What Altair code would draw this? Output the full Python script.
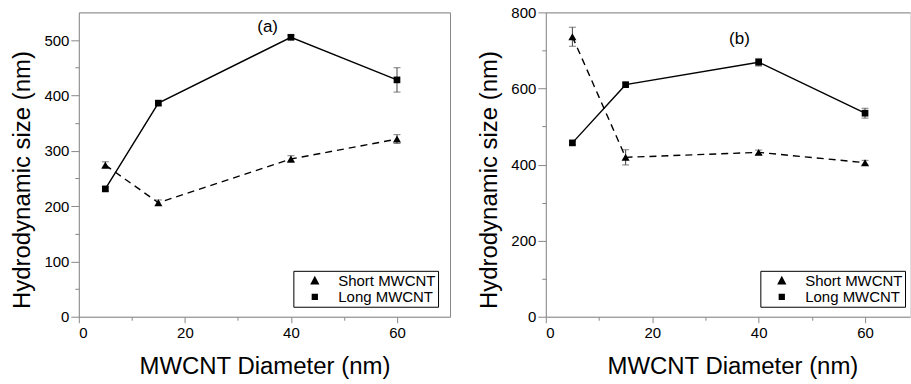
import altair as alt
import pandas as pd

FONT = "Liberation Sans"

# ---- data ----
diameters = [5, 15, 40, 60]
series_names = ["Short MWCNT", "Long MWCNT"]

a_short = [274, 206, 285, 321]
a_short_err = [6, 5, 6, 8]
a_long = [231, 386, 505, 428]
a_long_err = [4, 4, 4, 22]

b_short = [736, 419, 432, 405]
b_short_err = [25, 20, 6, 6]
b_long = [457, 610, 669, 535]
b_long_err = [5, 5, 10, 13]

x_major = [0, 20, 40, 60]
x_minor = [10, 30, 50]
a_y_major = [0, 100, 200, 300, 400, 500]
a_y_minor = [50, 150, 250, 350, 450]
b_y_major = [0, 200, 400, 600, 800]
b_y_minor = [100, 300, 500, 700]

panel_labels = ["(a)", "(b)"]
panel_label_x = [35.6, 36.4]
panel_label_y = [523, 730]

SHORT_PATH = "M-1,0L-0.62,0M0.36,0L0.74,0M0,-0.27L0.25,0.2L-0.25,0.2Z"
LONG_PATH = "M-1,0L1,0M-0.17,-0.17L0.17,-0.17L0.17,0.17L-0.17,0.17Z"


def make_df(short, short_err, long, long_err):
    rows = []
    for name, vals, errs in [(series_names[0], short, short_err), (series_names[1], long, long_err)]:
        for d, v, e in zip(diameters, vals, errs):
            rows.append({"d": d, "val": v, "lo": v - e, "hi": v + e, "series": name})
    return pd.DataFrame(rows)


def panel(df, ymax, ymaj, ymin, xmax, width, idx, right_frame, title_x):
    xs = alt.Scale(domain=[0, xmax], nice=False, zero=False)
    ys = alt.Scale(domain=[0, ymax], nice=False, zero=False)
    base = alt.Chart(df)
    short_base = base.transform_filter(alt.datum.series == series_names[0])
    long_base = base.transform_filter(alt.datum.series == series_names[1])

    short_line = short_base.mark_line(color="black", strokeWidth=1.4, strokeDash=[7, 5]).encode(
        x=alt.X("d:Q", scale=xs, axis=alt.Axis(
            orient="bottom", values=x_major, format="d", tickSize=6, labelPadding=3, grid=False,
            labelFontSize=15, title="MWCNT Diameter (nm)", titleFontSize=24,
            titleFontWeight="normal", titleY=38, titleX=title_x, titleBaseline="top")),
        y=alt.Y("val:Q", scale=ys, axis=alt.Axis(
            orient="left", values=ymaj, format="d", tickSize=8, labelPadding=2, grid=False,
            labelFontSize=15, title="Hydrodynamic size (nm)", titleFontSize=24,
            titleFontWeight="normal", titleX=-44, titleY=167.5, titleAngle=270,
            titleBaseline="bottom", titleAlign="center")),
    )
    long_line = long_base.mark_line(color="black", strokeWidth=1.4).encode(
        x=alt.X("d:Q", scale=xs, axis=None),
        y=alt.Y("val:Q", scale=ys, axis=None),
    )

    short_pts = short_base.mark_point(
        filled=True, color="black", size=65, opacity=1, shape="triangle-up").encode(
        x=alt.X("d:Q", scale=xs, axis=alt.Axis(
            orient="bottom", values=x_minor, labels=False, domain=False, tickSize=3.5, title=None, grid=False)),
        y=alt.Y("val:Q", scale=ys, axis=alt.Axis(
            orient="left", values=ymin, labels=False, domain=False, tickSize=4, title=None, grid=False)),
    )
    long_pts = long_base.mark_point(
        filled=True, color="black", size=45, opacity=1, shape="square").encode(
        x=alt.X("d:Q", scale=xs, axis=None),
        y=alt.Y("val:Q", scale=ys, axis=None),
    )

    # layer that draws no points (all rows filtered out); it only carries the legend
    legend_layer = base.transform_filter("false").mark_point(filled=True, color="black", size=1369).encode(
        x=alt.X("d:Q", scale=xs, axis=None),
        y=alt.Y("val:Q", scale=ys, axis=None),
        shape=alt.Shape("series:N", scale=alt.Scale(domain=series_names, range=[SHORT_PATH, LONG_PATH]),
                        legend=alt.Legend(title=None, orient="none", legendX=215, legendY=259, padding=2,
                                          strokeColor="black", fillColor="white", symbolSize=1369,
                                          symbolStrokeWidth=1.3, symbolFillColor="black",
                                          symbolStrokeColor="black", symbolOpacity=1,
                                          labelFontSize=15, labelFont=FONT,
                                          labelColor="black", labelOffset=4, rowPadding=0, clipHeight=16,
                                          symbolOffset=0)),
    )

    if right_frame:
        y_frame = alt.Axis(orient="right", labels=False, ticks=False, domain=True, title=None, grid=False)
    else:
        y_frame = None
    rules = base.mark_rule(color="#444", strokeWidth=1).encode(
        x=alt.X("d:Q", scale=xs, axis=alt.Axis(orient="top", labels=False, ticks=False, domain=True,
                                                 title=None, grid=False)),
        y=alt.Y("lo:Q", scale=ys, axis=y_frame),
        y2="hi:Q",
    )

    caps = base.transform_fold(["lo", "hi"], as_=["k", "v"]).mark_tick(
        orient="horizontal", color="#444", thickness=1, size=7).encode(
        x=alt.X("d:Q", scale=xs, axis=None),
        y=alt.Y("v:Q", scale=ys, axis=None),
    )

    lab_df = pd.DataFrame({"x": [panel_label_x[idx]], "y": [panel_label_y[idx]], "t": [panel_labels[idx]]})
    label = alt.Chart(lab_df).mark_text(fontSize=17, font=FONT, color="black", align="center",
                                         baseline="middle").encode(
        x=alt.X("x:Q", scale=xs, axis=None),
        y=alt.Y("y:Q", scale=ys, axis=None),
        text="t:N",
    )

    return alt.layer(rules, caps, short_line, long_line, short_pts, long_pts, legend_layer, label).resolve_axis(
        x="independent", y="independent").properties(width=width, height=305)


df_a = make_df(a_short, a_short_err, a_long, a_long_err)
df_b = make_df(b_short, b_short_err, b_long, b_long_err)

pa = panel(df_a, 550, a_y_major, a_y_minor, 70, 372, 0, True, 186)
pb = panel(df_b, 800, b_y_major, b_y_minor, 68.45, 365, 1, False, 187)

chart = alt.hconcat(pa, pb, spacing=96, bounds="flush").resolve_scale(
    shape="independent"
).resolve_legend(
    shape="independent"
).properties(
    padding={"left": 10, "top": 4, "right": 0, "bottom": 0}
).configure_view(stroke=None).configure_axis(
    grid=False, domainColor="black", tickColor="black", labelColor="black", titleColor="black",
    labelFont=FONT, titleFont=FONT, domainWidth=1, tickWidth=1
).configure(font=FONT)

chart.save("out.html", embed_options={"renderer": "svg", "actions": False})
